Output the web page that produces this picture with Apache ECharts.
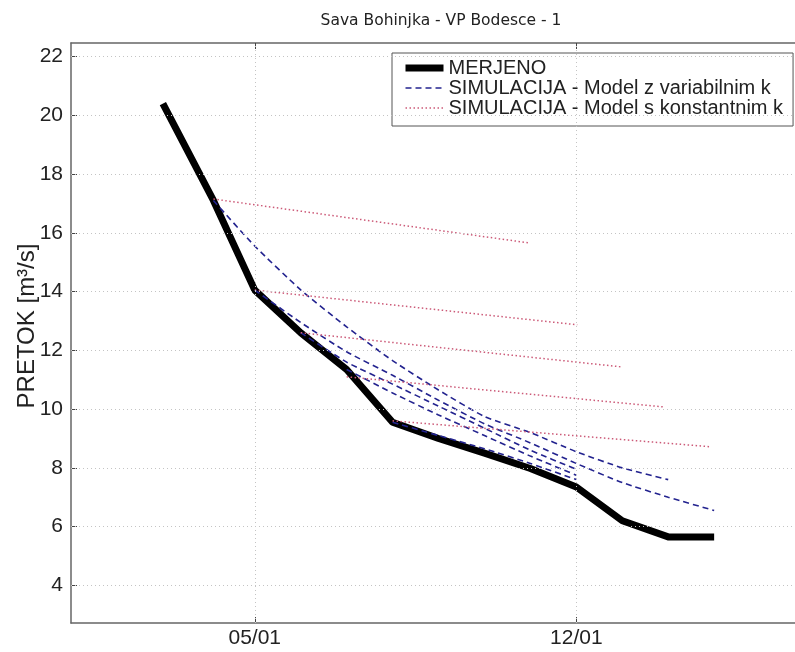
<!DOCTYPE html>
<html>
<head>
<meta charset="utf-8">
<script src="https://cdn.jsdelivr.net/npm/echarts@6/dist/echarts.min.js"></script>
<style>
html,body{margin:0;padding:0;background:#fff;}
#chart{width:795px;height:652px;}
</style>
</head>
<body>
<div id="chart"></div>
<script>
// ---- data (x = day of month, y = flow m3/s) ----
var titleText = 'Sava Bohinjka - VP Bodesce - 1';
var yAxisName = 'PRETOK [m\u00B3/s]';
var xTickValues = [5, 12];
var xTickLabels = ['05/01', '12/01'];
var yTickValues = [4, 6, 8, 10, 12, 14, 16, 18, 20, 22];

var measuredDays = [3, 4.1, 5, 6, 7, 8, 9, 10, 11, 12, 13, 14, 15];
var measuredFlow = [20.4, 17.1, 14.05, 12.6, 11.35, 9.55, 9.0, 8.5, 7.98, 7.35, 6.2, 5.65, 5.65];

// variable k model (blue dashed)
var varDays1 = [4.1, 5, 6, 7, 8, 9, 10, 11, 12, 13, 14];
var varFlow1 = [17.1, 15.55, 14.06, 12.8, 11.65, 10.65, 9.75, 9.2, 8.55, 8.0, 7.6];
var varDays2 = [5, 6, 7, 8, 9, 10, 11, 12, 13, 14, 15];
var varFlow2 = [14.05, 12.95, 11.95, 11.15, 10.3, 9.5, 8.85, 8.15, 7.5, 7.0, 6.55];
var varDays3 = [6, 7, 8, 9, 10, 11, 12];
var varFlow3 = [12.6, 11.6, 10.85, 10.1, 9.35, 8.6, 7.95];
var varDays4 = [7, 8, 9, 10, 11, 12];
var varFlow4 = [11.35, 10.55, 9.8, 9.1, 8.4, 7.75];
var varDays5 = [8, 9, 10, 11, 12];
var varFlow5 = [9.55, 9.1, 8.65, 8.15, 7.6];

// constant k model (pink dotted)
var constDays1 = [4.1, 11.0];
var constFlow1 = [17.15, 15.65];
var constDays2 = [5, 12.02];
var constFlow2 = [14.05, 12.87];
var constDays3 = [6, 12.96];
var constFlow3 = [12.6, 11.44];
var constDays4 = [7, 13.93];
var constFlow4 = [11.1, 10.07];
var constDays5 = [8, 14.91];
var constFlow5 = [9.6, 8.72];

var seriesNames = ['MERJENO', 'SIMULACIJA - Model z variabilnim k', 'SIMULACIJA - Model s konstantnim k'];

function pairs(xs, ys) { return xs.map(function (x, i) { return [x, ys[i]]; }); }

var chart = echarts.init(document.getElementById('chart'));

var FONT = 'Liberation Sans';
var gridLineStyle = { color: '#c4c4c4', width: 1, type: [1, 3] };

var blackStyle = { color: '#000', width: 7, cap: 'butt', join: 'round' };
var blueStyle = { color: '#23238f', width: 1.6, type: [6, 4] };
var pinkStyle = { color: '#cc5a78', width: 1.5, type: [1.5, 2.5] };

var series = [];
// grid lines drawn as markLines
series.push({
  type: 'line', name: '_grid', data: [], z: 1, silent: true,
  markLine: {
    silent: true, symbol: 'none', label: { show: false },
    lineStyle: gridLineStyle, animation: false,
    data: xTickValues.map(function (v) { return { xAxis: v }; })
      .concat(yTickValues.map(function (v) { return { yAxis: v }; }))
  }
});
series.push({
  type: 'line', name: seriesNames[0], data: pairs(measuredDays, measuredFlow),
  symbol: 'none', z: 3, lineStyle: blackStyle, itemStyle: { color: '#000' }
});
[[varDays1, varFlow1], [varDays2, varFlow2], [varDays3, varFlow3], [varDays4, varFlow4], [varDays5, varFlow5]].forEach(function (d) {
  series.push({
    type: 'line', name: seriesNames[1], data: pairs(d[0], d[1]), symbol: 'none', z: 4,
    smooth: 0.2, lineStyle: blueStyle, itemStyle: { color: blueStyle.color }
  });
});
[[constDays1, constFlow1], [constDays2, constFlow2], [constDays3, constFlow3], [constDays4, constFlow4], [constDays5, constFlow5]].forEach(function (d) {
  series.push({
    type: 'line', name: seriesNames[2], data: pairs(d[0], d[1]), symbol: 'none', z: 4,
    lineStyle: pinkStyle, itemStyle: { color: pinkStyle.color }
  });
});

var xLabelFmt = function (v) {
  var i = xTickValues.indexOf(v);
  return i >= 0 ? xTickLabels[i] : '';
};

chart.setOption({
  animation: false,
  backgroundColor: '#fff',
  title: {
    text: titleText, left: 436, top: 8, textAlign: 'center',
    textStyle: { fontFamily: 'DejaVu Sans', fontSize: 15.5, fontWeight: 'normal', color: '#222' }
  },
  legend: {
    data: [
      { name: seriesNames[0], lineStyle: { width: 7, color: '#000', type: 'solid', cap: 'butt' } },
      { name: seriesNames[1], lineStyle: { width: 1.6, color: blueStyle.color, type: blueStyle.type } },
      { name: seriesNames[2], lineStyle: { width: 1.5, color: pinkStyle.color, type: pinkStyle.type } }
    ],
    orient: 'vertical', left: 392, top: 53,
    padding: [5, 10, 8, 10], itemGap: 0, itemWidth: 38, itemHeight: 14,
    backgroundColor: '#fff', borderColor: '#555', borderWidth: 1,
    itemStyle: { opacity: 0, borderWidth: 0 },
    textStyle: { fontFamily: FONT, fontSize: 20, color: '#222', lineHeight: 20 },
    selectedMode: false
  },
  grid: { left: 71, right: 0, top: 43, bottom: 29, containLabel: false, outerBoundsMode: 'none' },
  xAxis: [{
    type: 'value', min: 1, max: 16.76, position: 'bottom',
    axisLine: { show: true, lineStyle: { color: '#666', width: 1.5 } },
    axisTick: { show: true, inside: true, length: 6, customValues: xTickValues, lineStyle: { color: '#444' } },
    axisLabel: { customValues: xTickValues, formatter: xLabelFmt, fontFamily: FONT, fontSize: 21, color: '#222', margin: 5 },
    splitLine: { show: false }
  }, {
    type: 'value', min: 1, max: 16.76, position: 'top',
    axisLine: { show: true, lineStyle: { color: '#666', width: 1.5 } },
    axisTick: { show: true, inside: true, length: 6, customValues: xTickValues, lineStyle: { color: '#444' } },
    axisLabel: { show: false },
    splitLine: { show: false }
  }],
  yAxis: {
    type: 'value', min: 2.72, max: 22.46,
    name: yAxisName, nameLocation: 'middle', nameRotate: 90, nameGap: 32, nameMoveOverlap: false,
    nameTextStyle: { fontFamily: FONT, fontSize: 24, color: '#222', padding: [0, 0, 0, 14] },
    axisLine: { show: true, lineStyle: { color: '#666', width: 1.5 } },
    axisTick: { show: true, inside: true, length: 6, customValues: yTickValues, lineStyle: { color: '#444' } },
    axisLabel: { customValues: yTickValues, fontFamily: FONT, fontSize: 21, color: '#222', margin: 8 },
    splitLine: { show: false }
  },
  series: series
});
</script>
</body>
</html>
